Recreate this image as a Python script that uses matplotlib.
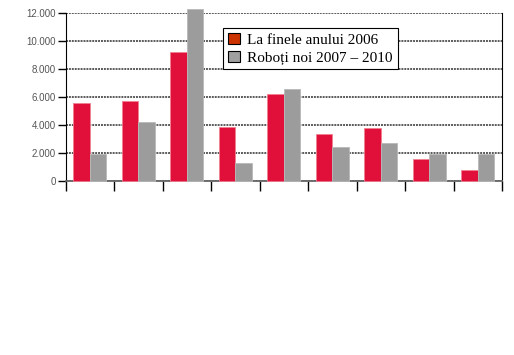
import matplotlib
matplotlib.use("Agg")
import matplotlib.pyplot as plt
import numpy as np
from matplotlib.ticker import FuncFormatter
from matplotlib.patches import Patch

categories = ["1", "2", "3", "4", "5", "6", "7", "8", "9"]
end_2006 = [5570, 5690, 9210, 3900, 6240, 3380, 3760, 1610, 830]
new_2007_2010 = [1950, 4210, 12290, 1290, 6570, 2470, 2760, 1930, 1930]
legend_labels = ["La finele anului 2006", "Roboți noi 2007 – 2010"]
yticks = [0, 2000, 4000, 6000, 8000, 10000, 12000]

W, H = 514, 355
fig = plt.figure(figsize=(W / 100, H / 100), dpi=100)
l, r, t, b = 65.7, 502, 12.7, 181.3
ax = fig.add_axes([l / W, 1 - b / H, (r - l) / W, (b - t) / H])

x = np.arange(len(categories))
bw = 0.34
red = "#e0103a"
gray = "#9c9c9c"
ax.bar(x + 0.5 - bw / 2, end_2006, bw, color=red, edgecolor="#f08090", linewidth=0.6, clip_on=False, zorder=3)
ax.bar(x + 0.5 + bw / 2, new_2007_2010, bw, color=gray, edgecolor="#b8b8b8", linewidth=0.6, clip_on=False, zorder=3)

ax.set_xlim(0, len(categories))
ax.set_ylim(0, 12000)
ax.set_yticks(yticks)
ax.yaxis.set_major_formatter(FuncFormatter(lambda v, p: f"{int(v):,}".replace(",", ".")))
ax.set_xticks(np.arange(len(categories) + 1))
ax.set_xticklabels([])
ax.tick_params(axis="x", direction="out", length=7, width=1, color="black")
ax.tick_params(axis="y", direction="out", length=6, width=1, color="black", labelsize=7, labelcolor="#555555", pad=1)
for lab in ax.get_yticklabels():
    lab.set_family(["Liberation Sans", "DejaVu Sans"])

ax.grid(axis="y", color="#5a5a5a", linestyle=(0, (1, 0.5)), linewidth=1.4, zorder=0)
ax.set_axisbelow(True)
ax.spines["top"].set_visible(False)
ax.spines["left"].set_color("black")
ax.spines["right"].set_color("black")
ax.spines["bottom"].set_color("#666666")
ax.spines["bottom"].set_linewidth(1.3)

handles = [Patch(facecolor="#cc3300", edgecolor="black", linewidth=0.8),
           Patch(facecolor="#a0a0a0", edgecolor="black", linewidth=0.8)]
leg = fig.legend(handles, legend_labels, loc="upper left",
                 bbox_to_anchor=(223 / W, 1 - 28 / H),
                 prop={"family": ["Liberation Serif", "DejaVu Serif"], "size": 11},
                 frameon=True, fancybox=False, edgecolor="black", framealpha=1,
                 handlelength=0.8, handleheight=0.8, handletextpad=0.5,
                 borderpad=0.3, labelspacing=0.25, borderaxespad=0)
leg.get_frame().set_linewidth(0.8)

fig.savefig("out.png", dpi=100)
